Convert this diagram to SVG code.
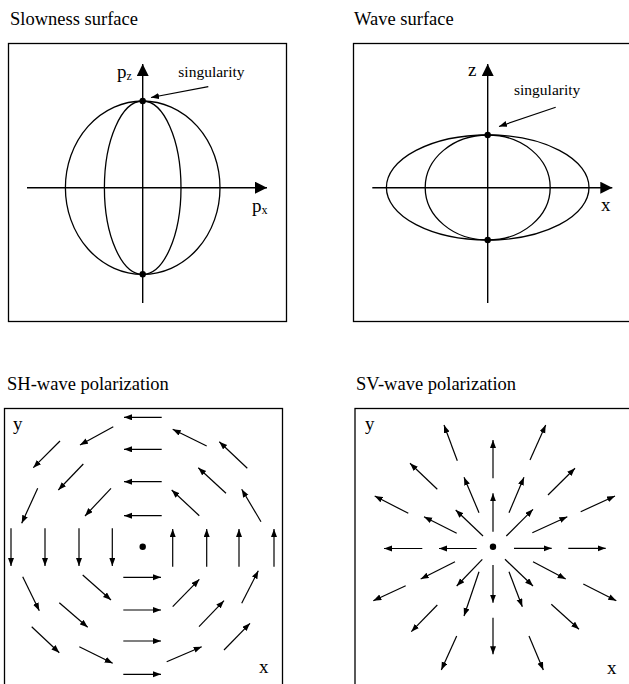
<svg xmlns="http://www.w3.org/2000/svg" width="629" height="684" viewBox="0 0 629 684">
<style>
text{font-family:"Liberation Serif","Times New Roman",serif;fill:#000}
.title{font-size:18.5px}
.lbl{font-size:19px}
.sub{font-size:12px}
.sing{font-size:15.5px}
.box{fill:none;stroke:#000;stroke-width:1.3}
.curve{fill:none;stroke:#000;stroke-width:1.3}
.axis{fill:none;stroke:#000;stroke-width:1.4;marker-end:url(#big)}
.vec{fill:none;stroke:#000;stroke-width:1.2;marker-end:url(#small)}
.dot{fill:#000}
</style>
<defs>
<marker id="big" markerUnits="userSpaceOnUse" markerWidth="13" markerHeight="12" refX="12" refY="6" orient="auto">
<path d="M0,0 L12,6 L0,12 z" fill="#000"/>
</marker>
<marker id="small" markerUnits="userSpaceOnUse" markerWidth="9" markerHeight="7" refX="8" refY="3" orient="auto">
<path d="M0,0 L8,3 L0,6 z" fill="#000"/>
</marker>
</defs>

<g id="slowness">
<text class="title" x="10" y="25">Slowness surface</text>
<rect class="box" x="8.5" y="43.5" width="278" height="278"/>
<ellipse class="curve" cx="142.7" cy="187.7" rx="77.3" ry="86.7"/>
<ellipse class="curve" cx="142.7" cy="187.7" rx="38.3" ry="86.7"/>
<circle class="dot" cx="142.7" cy="101" r="3.2"/>
<circle class="dot" cx="142.7" cy="274.3" r="3.2"/>
<text class="lbl" x="117" y="77.5">p<tspan class="sub" dy="2.5">z</tspan></text>
<text class="lbl" x="252" y="212">p<tspan class="sub" dy="2">x</tspan></text>
<text class="sing" x="178.3" y="76.7">singularity</text>
</g>

<g id="wave">
<text class="title" x="354" y="25">Wave surface</text>
<rect class="box" x="353.5" y="43.5" width="300" height="278"/>
<ellipse class="curve" cx="487.7" cy="187.5" rx="101.3" ry="52.5"/>
<ellipse class="curve" cx="487.7" cy="187.5" rx="62.5" ry="52.5"/>
<circle class="dot" cx="487.7" cy="135" r="3.2"/>
<circle class="dot" cx="487.7" cy="240" r="3.2"/>
<text class="lbl" x="468" y="76">z</text>
<text class="lbl" x="601" y="210.5">x</text>
<text class="sing" x="514" y="95">singularity</text>
</g>

<g id="connectors">
<line class="axis" x1="142.7" y1="303" x2="142.7" y2="64"/>
<line class="axis" x1="27" y1="187.7" x2="267" y2="187.7"/>
<line class="vec" x1="208.3" y1="86.7" x2="151" y2="97.5"/>
<line class="axis" x1="487.7" y1="303" x2="487.7" y2="64"/>
<line class="axis" x1="372.3" y1="187.7" x2="612.3" y2="187.7"/>
<line class="vec" x1="555.7" y1="107.3" x2="499" y2="126.5"/>
</g>

<g id="sh">
<text class="title" x="7" y="390">SH-wave polarization</text>
<rect class="box" x="4.5" y="408.5" width="278" height="300"/>
<circle class="dot" cx="142.7" cy="546.7" r="3.2"/>
<text class="lbl" x="13" y="430">y</text>
<text class="lbl" x="259" y="673">x</text>
<g id="sh-arrows">
<line class="vec" x1="161.7" y1="417.3" x2="124" y2="417.3"/>
<line class="vec" x1="161.7" y1="449.3" x2="124" y2="449.3"/>
<line class="vec" x1="161.7" y1="481.7" x2="124" y2="481.7"/>
<line class="vec" x1="161.7" y1="515.7" x2="124" y2="515.7"/>
<line class="vec" x1="123.3" y1="577.3" x2="161" y2="577.3"/>
<line class="vec" x1="123.3" y1="610" x2="161" y2="610"/>
<line class="vec" x1="123.3" y1="641" x2="161" y2="641"/>
<line class="vec" x1="123.3" y1="674.3" x2="161" y2="674.3"/>
<line class="vec" x1="11" y1="528.3" x2="11" y2="566"/>
<line class="vec" x1="45" y1="528.3" x2="45" y2="566"/>
<line class="vec" x1="79" y1="528.3" x2="79" y2="566"/>
<line class="vec" x1="112.3" y1="528.3" x2="112.3" y2="566"/>
<line class="vec" x1="172.7" y1="566.7" x2="172.7" y2="529"/>
<line class="vec" x1="206.7" y1="566.7" x2="206.7" y2="529"/>
<line class="vec" x1="239" y1="566.7" x2="239" y2="529"/>
<line class="vec" x1="274" y1="566.7" x2="274" y2="529"/>
<line class="vec" x1="111" y1="488.3" x2="85" y2="516"/>
<line class="vec" x1="199.3" y1="515.7" x2="171.7" y2="490"/>
<line class="vec" x1="82.7" y1="575" x2="111" y2="600"/>
<line class="vec" x1="172.7" y1="606.7" x2="199.3" y2="579.3"/>
<line class="vec" x1="83.3" y1="464" x2="58.3" y2="490"/>
<line class="vec" x1="226" y1="493.3" x2="198.3" y2="467.7"/>
<line class="vec" x1="59.3" y1="602.7" x2="87.7" y2="627.3"/>
<line class="vec" x1="199" y1="626.7" x2="224" y2="600.7"/>
<line class="vec" x1="113.3" y1="426.7" x2="80" y2="445"/>
<line class="vec" x1="60" y1="441" x2="33.3" y2="467.7"/>
<line class="vec" x1="37.7" y1="488.3" x2="21.7" y2="523.3"/>
<line class="vec" x1="206.7" y1="446" x2="172.7" y2="429.3"/>
<line class="vec" x1="247.3" y1="468.3" x2="219.3" y2="441.7"/>
<line class="vec" x1="261" y1="521.7" x2="241.7" y2="489.3"/>
<line class="vec" x1="22.7" y1="576.7" x2="39.3" y2="610.7"/>
<line class="vec" x1="31.7" y1="626.7" x2="59.3" y2="652.7"/>
<line class="vec" x1="79.3" y1="646.7" x2="112.7" y2="663.3"/>
<line class="vec" x1="166.7" y1="661.7" x2="201.7" y2="646.7"/>
<line class="vec" x1="224" y1="650" x2="250" y2="623.3"/>
<line class="vec" x1="241.7" y1="603.3" x2="258.3" y2="570.7"/>
</g>
</g>

<g id="sv">
<text class="title" x="356" y="390">SV-wave polarization</text>
<rect class="box" x="355" y="408.5" width="300" height="300"/>
<circle class="dot" cx="493" cy="546.7" r="3.2"/>
<text class="lbl" x="365" y="430">y</text>
<text class="lbl" x="607" y="674">x</text>
<g id="sv-arrows">
<line class="vec" x1="457.3" y1="460.7" x2="444" y2="425"/>
<line class="vec" x1="493" y1="478.3" x2="493" y2="440"/>
<line class="vec" x1="530" y1="460" x2="545.7" y2="425"/>
<line class="vec" x1="437.3" y1="489.3" x2="410" y2="463.3"/>
<line class="vec" x1="479" y1="512.7" x2="464" y2="477.3"/>
<line class="vec" x1="493" y1="531.7" x2="493" y2="493.3"/>
<line class="vec" x1="509" y1="512.7" x2="524" y2="477.3"/>
<line class="vec" x1="548" y1="495" x2="575" y2="468.3"/>
<line class="vec" x1="408.3" y1="513.3" x2="374.7" y2="496"/>
<line class="vec" x1="456.7" y1="533.3" x2="424" y2="516.7"/>
<line class="vec" x1="483" y1="536" x2="455.7" y2="510"/>
<line class="vec" x1="506.3" y1="536" x2="533" y2="509.3"/>
<line class="vec" x1="532.3" y1="532.7" x2="567.3" y2="516.7"/>
<line class="vec" x1="580.7" y1="511.7" x2="615" y2="496"/>
<line class="vec" x1="422.3" y1="548.5" x2="384" y2="548.5"/>
<line class="vec" x1="476.7" y1="548.5" x2="439" y2="548.5"/>
<line class="vec" x1="514" y1="548.3" x2="551.7" y2="548.3"/>
<line class="vec" x1="568.3" y1="548.3" x2="605.7" y2="548.3"/>
<line class="vec" x1="455" y1="561.7" x2="420.7" y2="579"/>
<line class="vec" x1="405.7" y1="585.7" x2="373.3" y2="600.7"/>
<line class="vec" x1="482.3" y1="559.3" x2="456.7" y2="586"/>
<line class="vec" x1="493" y1="565" x2="493" y2="602.7"/>
<line class="vec" x1="505" y1="559.3" x2="533" y2="586"/>
<line class="vec" x1="509" y1="571.7" x2="522.3" y2="606.7"/>
<line class="vec" x1="479" y1="571.7" x2="464" y2="616"/>
<line class="vec" x1="533" y1="561.7" x2="565.7" y2="579"/>
<line class="vec" x1="583.3" y1="584" x2="616.3" y2="600.7"/>
<line class="vec" x1="437.3" y1="605" x2="411.3" y2="631.7"/>
<line class="vec" x1="493" y1="617.7" x2="493" y2="654.3"/>
<line class="vec" x1="551.3" y1="604.3" x2="579" y2="629.3"/>
<line class="vec" x1="456.7" y1="636" x2="441.3" y2="670"/>
<line class="vec" x1="529" y1="636" x2="543.3" y2="670"/>
</g>
</g>
</svg>
